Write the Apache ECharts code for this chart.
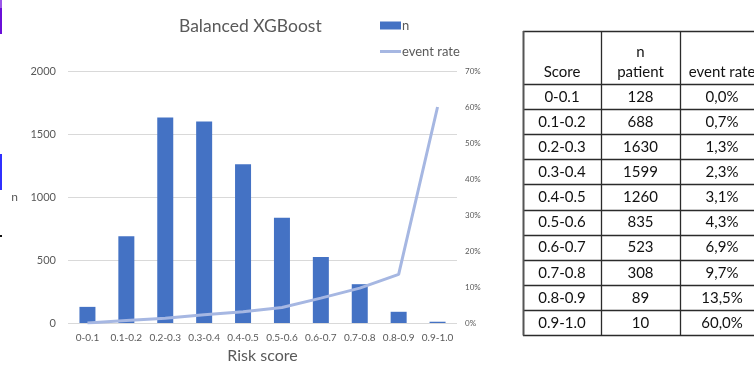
<!DOCTYPE html>
<html>
<head>
<meta charset="utf-8">
<script src="https://cdn.jsdelivr.net/npm/echarts@6/dist/echarts.min.js"></script>
<style>
  html, body { margin: 0; padding: 0; background: #ffffff; }
  #chart { width: 754px; height: 365px; }
</style>
</head>
<body>
<div id="chart"></div>
<script>
// Score bands, patient counts per band and observed event rate (%)
const categories = ['0-0.1', '0.1-0.2', '0.2-0.3', '0.3-0.4', '0.4-0.5',
                    '0.5-0.6', '0.6-0.7', '0.7-0.8', '0.8-0.9', '0.9-1.0'];
const patientCounts = [128, 688, 1630, 1599, 1260, 835, 523, 308, 89, 10];
const eventRates = [0.0, 0.7, 1.3, 2.3, 3.1, 4.3, 6.9, 9.7, 13.5, 60.0];

// Axis tick settings
const countTicks = [0, 500, 1000, 1500, 2000];
const rateTicks = [0, 10, 20, 30, 40, 50, 60, 70];

const FONT = 'Lato, "Open Sans", sans-serif';
const GREY = '#595959';
const BAR = '#4472C4';
const LINE = '#A6B7E2';

// Table layout
const tableCols = [523, 601, 680, 764];
const headerTop = 31, headerBottom = 84, rowH = 25.1;
const tableFont = '15px ' + FONT;

function pct(v) { return v.toFixed(1).replace('.', ',') + '%'; }

const graphics = [];
// thin colour strips on the left edge
graphics.push({ type: 'rect', shape: { x: 0, y: 0, width: 2, height: 8 }, style: { fill: '#9a55e8' } });
graphics.push({ type: 'rect', shape: { x: 0, y: 8, width: 2, height: 26 }, style: { fill: '#6a0fd8' } });
graphics.push({ type: 'rect', shape: { x: 0, y: 154, width: 2, height: 36 }, style: { fill: '#3030ff' } });
graphics.push({ type: 'rect', shape: { x: 0, y: 235, width: 2, height: 2 }, style: { fill: '#111' } });

const tableBottom = headerBottom + rowH * categories.length;
const lineStyle = { stroke: '#2b2b2b', lineWidth: 1.3 };
// horizontal rules
const hRows = [headerTop, headerBottom];
for (let i = 1; i <= categories.length; i++) hRows.push(headerBottom + rowH * i);
hRows.forEach(y => {
  const yy = Math.round(y) + 0.5;
  graphics.push({ type: 'line', shape: { x1: tableCols[0], y1: yy, x2: 754, y2: yy }, style: lineStyle });
});
// vertical rules
tableCols.slice(0, 3).forEach((x, i) => {
  graphics.push({ type: 'line', shape: { x1: x + 0.5, y1: headerTop, x2: x + 0.5, y2: Math.round(tableBottom) + 0.5 },
    style: { stroke: i === 0 ? '#555' : '#2b2b2b', lineWidth: i === 0 ? 2 : 1.3 } });
});
function cellText(text, col, y) {
  graphics.push({ type: 'text', style: { text: text, x: (tableCols[col] + tableCols[col + 1]) / 2, y: y,
    textAlign: 'center', textVerticalAlign: 'middle', font: tableFont, fill: '#111' } });
}
cellText('Score', 0, 72);
cellText('n', 1, 52);
cellText('patient', 1, 72);
cellText('event rate', 2, 72);
categories.forEach((c, i) => {
  const y = headerBottom + rowH * i + rowH / 2 + 0.5;
  cellText(c, 0, y);
  cellText(String(patientCounts[i]), 1, y);
  cellText(pct(eventRates[i]), 2, y);
});

const chart = echarts.init(document.getElementById('chart'), null, { renderer: 'canvas' });
chart.setOption({
  animation: false,
  backgroundColor: '#ffffff',
  textStyle: { fontFamily: FONT },
  title: {
    text: 'Balanced XGBoost', left: 174, top: 12,
    textStyle: { fontFamily: FONT, fontSize: 17.5, fontWeight: 'normal', color: GREY }
  },
  legend: {
    orient: 'vertical', left: 380, top: 19, padding: 0,
    itemWidth: 21, itemHeight: 8, itemGap: 13, symbolKeepAspect: true,
    textStyle: { fontFamily: FONT, fontSize: 13, color: GREY, padding: [0, 0, 0, -4] },
    data: [
      { name: 'n', icon: 'rect' },
      { name: 'event rate', icon: 'path://M0,0L21,0L21,3L0,3Z' }
    ]
  },
  grid: { left: 68, right: 297, top: 71, bottom: 42, containLabel: false, outerBoundsMode: 'none' },
  xAxis: {
    type: 'category', data: categories,
    name: 'Risk score', nameLocation: 'middle', nameGap: 25,
    nameTextStyle: { fontFamily: FONT, fontSize: 16, color: GREY },
    axisLine: { show: false }, axisTick: { show: false },
    axisLabel: { fontFamily: FONT, fontSize: 10, color: GREY, margin: 10, interval: 0 }
  },
  yAxis: [{
    type: 'value', min: countTicks[0], max: countTicks[countTicks.length - 1],
    interval: countTicks[1] - countTicks[0],
    name: 'n', nameLocation: 'middle', nameGap: 50, nameRotate: 0,
    nameTextStyle: { fontFamily: FONT, fontSize: 12, color: GREY, padding: [6, 0, 0, 0] },
    axisLine: { show: false }, axisTick: { show: false },
    axisLabel: { fontFamily: FONT, fontSize: 11, color: GREY, margin: 12, formatter: v => String(v) },
    splitLine: { lineStyle: { color: '#d9d9d9', width: 1 } }
  }, {
    type: 'value', min: rateTicks[0], max: rateTicks[rateTicks.length - 1],
    interval: rateTicks[1] - rateTicks[0],
    axisLine: { show: false }, axisTick: { show: false },
    axisLabel: { fontFamily: FONT, fontSize: 8, color: GREY, margin: 8, formatter: '{value}%' },
    splitLine: { show: false }
  }],
  series: [{
    name: 'n', type: 'bar', data: patientCounts, yAxisIndex: 0,
    barWidth: 16, itemStyle: { color: BAR }
  }, {
    name: 'event rate', type: 'line', data: eventRates, yAxisIndex: 1,
    symbol: 'none', showSymbol: false,
    lineStyle: { color: LINE, width: 3 }, itemStyle: { color: LINE }
  }],
  graphic: graphics
});
</script>
</body>
</html>
